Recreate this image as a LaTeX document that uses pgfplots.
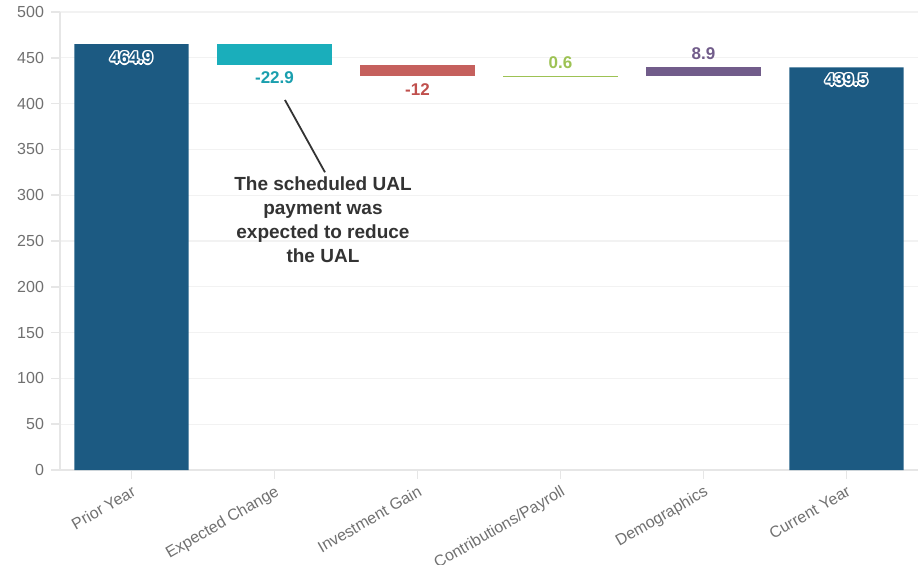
\documentclass[border=0pt]{standalone}
\usepackage{fontspec}
\setmainfont{Liberation Sans}
\usepackage{pgfplots}
\pgfplotsset{compat=1.18}

\definecolor{navy}{HTML}{1C5A82}
\definecolor{tealc}{HTML}{1AAEBB}
\definecolor{tealt}{HTML}{1A9FAE}
\definecolor{redc}{HTML}{C5605D}
\definecolor{redt}{HTML}{C0504D}
\definecolor{greenc}{HTML}{9DC254}
\definecolor{purc}{HTML}{715C8A}
\definecolor{tickgray}{HTML}{707070}
\definecolor{axisgray}{HTML}{E6E6E6}
\definecolor{gridgray}{HTML}{F2F2F2}
\definecolor{notegray}{HTML}{333333}

\begin{document}
\begin{tikzpicture}
  \begin{axis}[
      scale only axis, width=429pt, height=229pt,
      ybar stacked, bar width=0.8,
      xmin=-0.5, xmax=5.5, ymin=0, ymax=500,
      xtick={0,1,2,3,4,5},
      xticklabels={Prior Year, Expected Change, Investment Gain,
                   Contributions/Payroll, Demographics, Current Year},
      ytick={0,50,...,500},
      axis x line*=bottom, axis y line*=left,
      axis line style={axisgray, line width=0.8pt, -},
      ymajorgrids, grid style={gridgray, line width=0.6pt},
      tick align=outside, major tick length=4.5pt,
      tick style={axisgray, line width=0.8pt},
      ticklabel style={text=tickgray, font=\fontsize{8}{10}\selectfont},
      x tick label style={rotate=30, anchor=north east, inner sep=1pt,
                          yshift=-1.2pt, xshift=-0.5pt},
      /pgf/number format/assume math mode=true,
      clip=false,
    ]
    % invisible base for the floating bars
    \addplot[draw=none, fill=none] coordinates
      {(0,0)(1,442)(2,430)(3,430)(4,430.6)(5,0)};
    \addplot[draw=none, fill=navy] coordinates
      {(0,464.9)(1,0)(2,0)(3,0)(4,0)(5,439.5)};
    \addplot[draw=none, fill=tealc] coordinates
      {(0,0)(1,22.9)(2,0)(3,0)(4,0)(5,0)};
    \addplot[draw=none, fill=redc] coordinates
      {(0,0)(1,0)(2,12)(3,0)(4,0)(5,0)};
    \addplot[draw=none, fill=greenc] coordinates
      {(0,0)(1,0)(2,0)(3,0.6)(4,0)(5,0)};
    \addplot[draw=none, fill=purc] coordinates
      {(0,0)(1,0)(2,0)(3,0)(4,8.9)(5,0)};

    \coordinate (l0) at (axis cs:0,449.8);
    \coordinate (l5) at (axis cs:5,425.8);
    \node[font=\bfseries\fontsize{8.5}{10}\selectfont, text=tealt]
      at (axis cs:1,428) {-22.9};
    \node[font=\bfseries\fontsize{8.5}{10}\selectfont, text=redt]
      at (axis cs:2,415) {-12};
    \node[font=\bfseries\fontsize{8.5}{10}\selectfont, text=greenc]
      at (axis cs:3,445) {0.6};
    \node[font=\bfseries\fontsize{8.5}{10}\selectfont, text=purc]
      at (axis cs:4,455) {8.9};

    \draw[notegray, line width=0.9pt] (axis cs:1.073,404) -- (axis cs:1.353,325);
    \node[font=\bfseries\fontsize{9.5}{12}\selectfont, text=notegray, align=center]
      at (axis cs:1.339,273)
      {The scheduled UAL\\payment was\\expected to reduce\\the UAL};
  \end{axis}

  % total labels with a white halo
  \foreach \a in {0,45,...,315} {
    \node[font=\bfseries\fontsize{8.5}{10}\selectfont, text=white]
      at ([shift={(\a:0.8pt)}]l0) {464.9};
    \node[font=\bfseries\fontsize{8.5}{10}\selectfont, text=white]
      at ([shift={(\a:0.8pt)}]l5) {439.5};
  }
  \node[font=\bfseries\fontsize{8.5}{10}\selectfont, text=navy] at (l0) {464.9};
  \node[font=\bfseries\fontsize{8.5}{10}\selectfont, text=navy] at (l5) {439.5};

  \pgfresetboundingbox
  \path (-30pt,-47pt) rectangle (429pt,235pt);
\end{tikzpicture}
\end{document}
